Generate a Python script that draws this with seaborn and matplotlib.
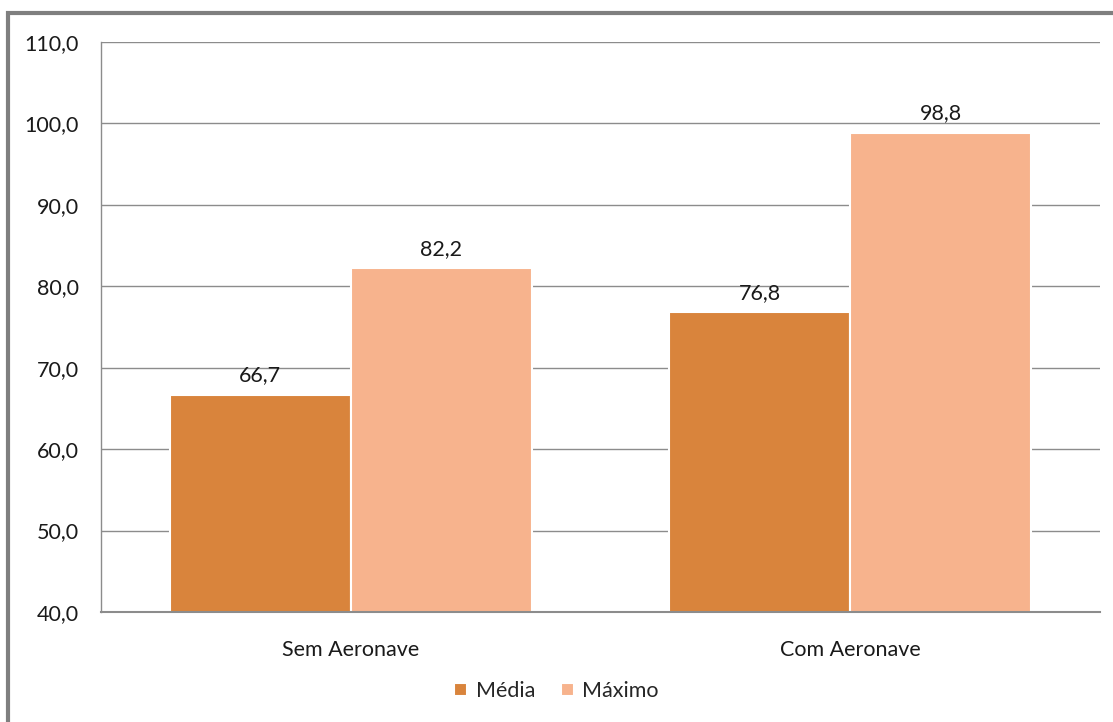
import numpy as np
import pandas as pd
import matplotlib.pyplot as plt
import seaborn as sns
from matplotlib.patches import Rectangle

# dados do grafico
cenarios = ['Sem Aeronave', 'Com Aeronave']
series = ['Média', 'Máximo']
media = [66.7, 76.8]
maximo = [82.2, 98.8]
y_ticks = [40, 50, 60, 70, 80, 90, 100, 110]

df = pd.DataFrame({
    'cenario': cenarios * 2,
    'serie': [series[0]] * 2 + [series[1]] * 2,
    'valor': media + maximo,
})

sns.set_style('white')
plt.rcParams['font.family'] = ['Lato', 'DejaVu Sans']
fs = 15.5

fig = plt.figure(figsize=(11.13, 7.22), dpi=100)
ax = fig.add_axes([0.0907, 0.1524, 0.8975, 0.7894])

sns.barplot(data=df, x='cenario', y='valor', hue='serie',
            palette=['#D9843C', '#F7B38D'], saturation=1, width=0.725,
            edgecolor='white', linewidth=1.5, ax=ax, legend=True)

ax.set_ylim(40, 110)
ax.set_yticks(y_ticks)
ax.set_yticklabels([f'{v:.1f}'.replace('.', ',') for v in y_ticks], fontsize=fs)
ax.set_xlim(-0.5, 1.5)
ax.tick_params(axis='x', labelsize=fs, length=0, pad=20, labelcolor='#1a1a1a')
ax.tick_params(axis='y', length=0, pad=16, labelcolor='#1a1a1a')
ax.set_xlabel('')
ax.set_ylabel('')
ax.yaxis.grid(True, color='#8C8C8C', linewidth=1)
ax.set_axisbelow(True)
for s in ['top', 'right']:
    ax.spines[s].set_visible(False)
ax.spines['left'].set_color('#8C8C8C')
ax.spines['left'].set_linewidth(1)
ax.spines['bottom'].set_color('#8C8C8C')
ax.spines['bottom'].set_linewidth(1.5)

for cont in ax.containers:
    ax.bar_label(cont, labels=[f'{b.get_height():.1f}'.replace('.', ',') for b in cont],
                 padding=7, fontsize=fs, color='#1a1a1a')

handles, labels = ax.get_legend_handles_labels()
ax.get_legend().remove()
fig.legend(handles, labels, loc='center', bbox_to_anchor=(0.5, 0.043), ncol=2,
           frameon=False, fontsize=fs, handlelength=0.6, handleheight=0.6,
           handletextpad=0.4, columnspacing=1.2)

# moldura cinza do grafico
fig.patches.append(Rectangle((8 / 1113, -0.1), 1.2, 1.1 - 13 / 722,
                             transform=fig.transFigure, fill=False,
                             edgecolor='#7F7F7F', linewidth=3))

fig.savefig('out.png', dpi=100)
